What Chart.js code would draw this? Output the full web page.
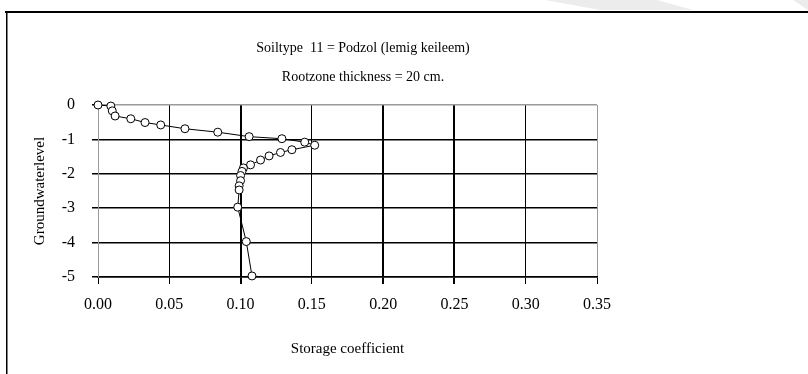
<!DOCTYPE html>
<html>
<head>
<meta charset="utf-8">
<title>Storage coefficient</title>
<script src="https://cdn.jsdelivr.net/npm/chart.js@4.4.1/dist/chart.umd.min.js"></script>
<style>
  html, body { margin: 0; padding: 0; background: #fff; }
  #wrap { width: 808px; height: 374px; }
</style>
</head>
<body>
<div id="wrap"><canvas id="storage-chart" width="808" height="374"></canvas></div>
<script>
// storage coefficient (x) against groundwater level in m (y), in measured order
const storageCoefficient = [
  0.000, 0.009, 0.010, 0.012, 0.023, 0.033, 0.044, 0.061, 0.084, 0.106,
  0.129, 0.145, 0.152, 0.136, 0.128, 0.120, 0.114, 0.107, 0.102, 0.101,
  0.100, 0.100, 0.099, 0.099, 0.098, 0.104, 0.108
];
const groundwaterLevel = [
  0.00, -0.03, -0.17, -0.32, -0.40, -0.51, -0.58, -0.69, -0.79, -0.92,
  -0.98, -1.08, -1.17, -1.30, -1.38, -1.48, -1.60, -1.74, -1.83, -1.93,
  -2.05, -2.20, -2.35, -2.47, -2.97, -3.97, -4.97
];
const xTickValues = [0, 0.05, 0.10, 0.15, 0.20, 0.25, 0.30, 0.35];
const yTickValues = [0, -1, -2, -3, -4, -5];
const headingLines = ['Soiltype  11 = Podzol (lemig keileem)', 'Rootzone thickness = 20 cm.'];
const xTitle = 'Storage coefficient';
const yTitle = 'Groundwaterlevel';

const serif = '"Liberation Serif", "DejaVu Serif", serif';
const edgeGray = '#9a9a9a';

// frame, faint corner shading and the two heading lines
const framePlugin = {
  id: 'chartFrame',
  beforeDraw(chart) {
    const c = chart.ctx;
    c.save();
    c.fillStyle = '#fff';
    c.fillRect(0, 0, chart.width, chart.height);

    c.fillStyle = '#ececec';
    c.beginPath();
    c.moveTo(545, 0); c.lineTo(657, 0); c.lineTo(693, 10); c.lineTo(600, 10);
    c.closePath(); c.fill();
    c.beginPath();
    c.moveTo(793, 0); c.lineTo(808, 0); c.lineTo(808, 10);
    c.closePath(); c.fill();

    c.strokeStyle = '#000';
    c.lineWidth = 2;
    c.beginPath(); c.moveTo(5, 12); c.lineTo(808, 12); c.stroke();
    c.lineWidth = 1.5;
    c.beginPath(); c.moveTo(6.75, 12); c.lineTo(6.75, 374); c.stroke();

    c.fillStyle = '#000';
    c.font = '14px ' + serif;
    c.textAlign = 'center';
    c.textBaseline = 'middle';
    headingLines.forEach((line, i) => c.fillText(line, 363, 48 + i * 29));
    c.restore();
  }
};

const points = storageCoefficient.map((x, i) => ({ x, y: groundwaterLevel[i] }));

new Chart(document.getElementById('storage-chart'), {
  type: 'scatter',
  data: {
    datasets: [{
      data: points,
      showLine: true,
      borderColor: '#000',
      borderWidth: 1,
      pointRadius: 4,
      pointHoverRadius: 4,
      pointBorderWidth: 1,
      pointBorderColor: '#000',
      pointBackgroundColor: '#fff',
      clip: false,
    }],
  },
  options: {
    responsive: false,
    animation: false,
    devicePixelRatio: 1,
    layout: { padding: { top: 105, right: 211, left: 0, bottom: 0 } },
    plugins: {
      legend: { display: false },
      tooltip: { enabled: false },
    },
    scales: {
      x: {
        type: 'linear',
        min: 0,
        max: 0.35,
        afterBuildTicks: (scale) => { scale.ticks = xTickValues.map((value) => ({ value })); },
        afterFit: (scale) => { scale.height = 97; },
        ticks: {
          color: '#000',
          padding: 11,
          font: { family: serif, size: 16 },
          maxRotation: 0,
          callback: (v) => Number(v).toFixed(2),
        },
        grid: {
          color: (c) => (c.tick && (c.tick.value === 0 || c.tick.value === 0.35) ? edgeGray : '#000'),
          lineWidth: (c) => (c.tick && [0.10, 0.20, 0.25].includes(c.tick.value) ? 2 : 1),
          tickColor: '#000',
          tickLength: 7,
        },
        border: { color: '#000', width: 1.5 },
        title: {
          display: true,
          text: xTitle,
          color: '#000',
          font: { family: serif, size: 15 },
          padding: { top: 0, bottom: 16 },
        },
      },
      y: {
        type: 'linear',
        min: -5,
        max: 0,
        afterBuildTicks: (scale) => { scale.ticks = yTickValues.map((value) => ({ value })); },
        afterFit: (scale) => { scale.width = 98; },
        ticks: {
          color: '#000',
          padding: 17,
          font: { family: serif, size: 16 },
          callback: (v) => String(v),
        },
        grid: {
          color: (c) => (c.tick && c.tick.value === 0 ? edgeGray : '#000'),
          lineWidth: 1.5,
          tickColor: '#000',
          tickLength: 6,
        },
        border: { color: edgeGray, width: 1 },
        title: {
          display: true,
          text: yTitle,
          color: '#000',
          font: { family: serif, size: 15 },
          padding: { top: 31, bottom: 0 },
        },
      },
    },
  },
  plugins: [framePlugin],
});
</script>
</body>
</html>
